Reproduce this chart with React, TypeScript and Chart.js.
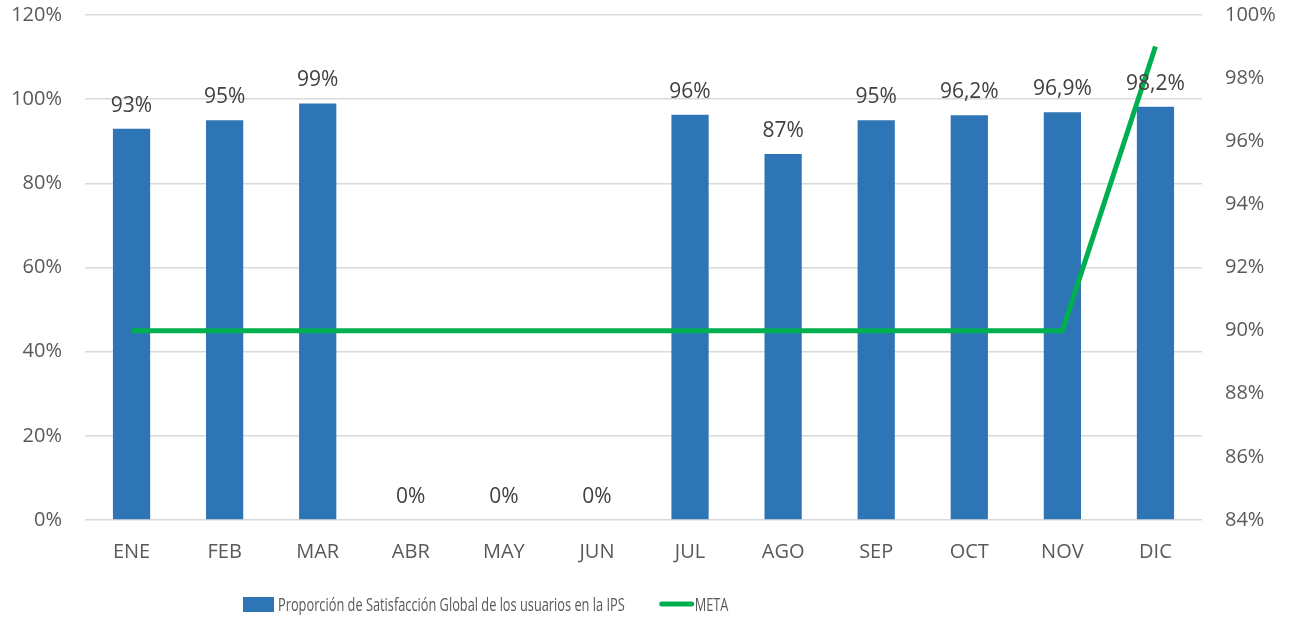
import React, { useEffect, useRef } from "react";
import { Chart, registerables } from "chart.js";

Chart.register(...registerables);

const months = ["ENE", "FEB", "MAR", "ABR", "MAY", "JUN", "JUL", "AGO", "SEP", "OCT", "NOV", "DIC"];
const satisfaction = [93, 95, 99, 0, 0, 0, 96.3, 87, 95, 96.2, 96.9, 98.2];
const satisfactionLabels = ["93%", "95%", "99%", "0%", "0%", "0%", "96%", "87%", "95%", "96,2%", "96,9%", "98,2%"];
const metaValues = [90, 90, 90, 90, 90, 90, 90, 90, 90, 90, 90, 99];
const seriesNames = ["Proporción de Satisfacción Global de los usuarios en la IPS", "META"];
const leftAxis = { min: 0, max: 120, step: 20 };
const rightAxis = { min: 84, max: 100, step: 2 };

const BAR_COLOR = "#2e75b6";
const LINE_COLOR = "#00b050";
const FONT = "'Open Sans', 'DejaVu Sans', sans-serif";

const dataLabelPlugin = {
  id: "dataLabels",
  afterDatasetsDraw(chart: any) {
    const ctx = chart.ctx;
    const meta = chart.getDatasetMeta(1);
    ctx.save();
    ctx.font = `21px ${FONT}`;
    ctx.fillStyle = "#404040";
    ctx.textAlign = "center";
    ctx.textBaseline = "alphabetic";
    meta.data.forEach((el: any, i: number) => {
      ctx.fillText(satisfactionLabels[i], el.x, el.y - 17);
    });
    ctx.restore();
  },
};

const legendPlugin = {
  id: "customLegend",
  afterDraw(chart: any) {
    const ctx = chart.ctx;
    const ds = chart.data.datasets;
    const y = 604;
    const sx = 0.673;
    ctx.save();
    ctx.font = `19px ${FONT}`;
    ctx.textBaseline = "alphabetic";
    let x = 243;
    const bar = ds[1];
    ctx.fillStyle = bar.backgroundColor;
    ctx.fillRect(x, y - 7, 31, 15);
    x += 31 + 4;
    ctx.fillStyle = "#595959";
    ctx.save();
    ctx.translate(x, y + 7);
    ctx.scale(sx, 1);
    ctx.fillText(bar.label, 0, 0);
    ctx.restore();
    x += ctx.measureText(bar.label).width * sx + 35;
    const line = ds[0];
    ctx.strokeStyle = line.borderColor;
    ctx.lineWidth = 5;
    ctx.lineCap = "round";
    ctx.beginPath();
    ctx.moveTo(x + 2, y);
    ctx.lineTo(x + 32, y);
    ctx.stroke();
    x += 35;
    ctx.save();
    ctx.translate(x, y + 7);
    ctx.scale(sx, 1);
    ctx.fillText(line.label, 0, 0);
    ctx.restore();
    ctx.restore();
  },
};

const fitVertical = (width: number) => (s: any) => {
  s.width = width;
  s.paddingTop = 0;
  s.paddingBottom = 0;
};

export default function App() {
  const canvasRef = useRef<HTMLCanvasElement | null>(null);

  useEffect(() => {
    if (!canvasRef.current) return;
    const chart = new Chart(canvasRef.current, {
      type: "bar",
      data: {
        labels: months,
        datasets: [
          {
            type: "line",
            label: seriesNames[1],
            data: metaValues,
            yAxisID: "y1",
            borderColor: LINE_COLOR,
            backgroundColor: LINE_COLOR,
            borderWidth: 5,
            pointRadius: 0,
            tension: 0,
            order: 0,
          } as any,
          {
            type: "bar",
            label: seriesNames[0],
            data: satisfaction,
            yAxisID: "y",
            backgroundColor: BAR_COLOR,
            categoryPercentage: 1,
            barPercentage: 0.4,
            order: 1,
          },
        ],
      },
      options: {
        responsive: true,
        maintainAspectRatio: false,
        animation: false,
        layout: { autoPadding: false, padding: { top: 15, bottom: 54, left: 0, right: 0 } },
        plugins: {
          legend: { display: false },
          tooltip: { enabled: false },
        },
        scales: {
          x: {
            grid: { display: false, drawTicks: false },
            border: { display: false },
            ticks: { color: "#595959", font: { family: FONT, size: 20 }, padding: 20 },
            afterFit: (s: any) => {
              s.height = 45;
              s.paddingLeft = 0;
              s.paddingRight = 0;
            },
          },
          y: {
            position: "left",
            min: leftAxis.min,
            max: leftAxis.max,
            ticks: {
              stepSize: leftAxis.step,
              color: "#595959",
              font: { family: FONT, size: 20 },
              padding: 23,
              callback: (v: any) => `${v}%`,
            },
            grid: { color: "#d9d9d9", lineWidth: 1.5, drawTicks: false },
            border: { display: false },
            afterFit: fitVertical(85),
          },
          y1: {
            position: "right",
            min: rightAxis.min,
            max: rightAxis.max,
            ticks: {
              stepSize: rightAxis.step,
              color: "#595959",
              font: { family: FONT, size: 20 },
              padding: 23,
              callback: (v: any) => `${v}%`,
            },
            grid: { display: false, drawTicks: false },
            border: { display: false },
            afterFit: fitVertical(89),
          },
        },
      },
      plugins: [dataLabelPlugin, legendPlugin],
    });
    return () => chart.destroy();
  }, []);

  return (
    <div style={{ position: "fixed", left: 0, top: 0, width: 1291, height: 619, background: "#fff" }}>
      <canvas ref={canvasRef} />
    </div>
  );
}
